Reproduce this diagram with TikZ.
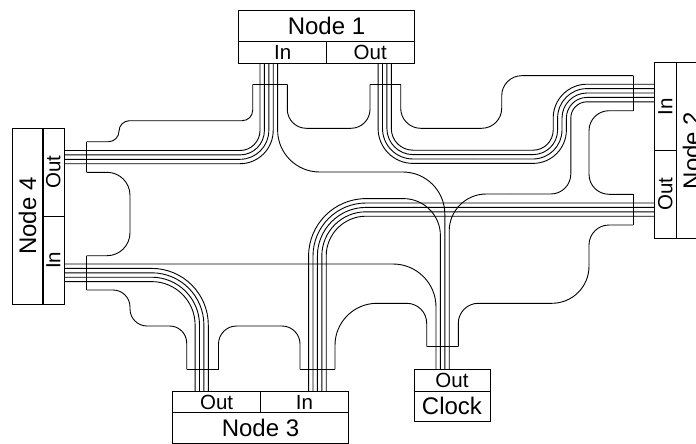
\documentclass[tikz,border=0pt]{standalone}
\usepackage{fontspec}
\setmainfont{Liberation Sans}
\tikzset{
  wire/.style={line width=0.9pt},
  rim/.style={line width=0.9pt},
  name cell/.style={draw,line width=0.8pt,inner sep=0pt,minimum width=175.5pt,
    minimum height=31pt,font=\fontsize{24}{24}\selectfont},
  port cell/.style={draw,line width=0.8pt,inner sep=0pt,minimum width=87.75pt,
    minimum height=21.5pt,font=\fontsize{20.5}{20.5}\selectfont},
}
\begin{document}
\begin{tikzpicture}[x=1pt,y=-1pt]
  \useasboundingbox (0,0) rectangle (696,444);
  \clip (0,0) rectangle (696,444);
  % blocks
  \node[name cell] (n1) at (326.5,26.25) {Node 1};
  \node[port cell] (n1in) at (282.75,52.25) {In};
  \node[port cell] (n1out) at (370.25,52.25) {Out};
  \node[name cell,rotate=90] (n2) at (691.5,150.5) {Node 2};
  \node[port cell,rotate=90] (n2in) at (665.25,106.6) {In};
  \node[port cell,rotate=90] (n2out) at (665.25,194.4) {Out};
  \node[name cell] (n3) at (260.5,427.8) {Node 3};
  \node[port cell] (n3out) at (216.6,402) {Out};
  \node[port cell] (n3in) at (304.4,402) {In};
  \node[name cell,rotate=90] (n4) at (27.5,216.3) {Node 4};
  \node[port cell,rotate=90] (n4out) at (53.35,172.3) {Out};
  \node[port cell,rotate=90] (n4in) at (53.35,260.3) {In};
  \node[name cell,minimum width=76pt,minimum height=30pt] (clk) at (452,406) {Clock};
  \node[port cell,minimum width=76pt,minimum height=21.7pt] (clkout) at (452,380.15) {Out};

  % routing area
  \draw[rim,rounded corners=10.5] (86.7,141.7) -- (119,141.7) -- (119,120.7) -| (252.7,84.3);
  \draw[rim,rounded corners=19] (287.3,84.3) |- (370,128.3) -- (370,84.3);
  \draw[rim,rounded corners=20] (400.7,84.3) |- (501.7,128.3) -- (501.7,75.7) -- (633.3,75.7);
  \draw[rim,rounded corners=20] (633.3,110.7) -- (589,110.7) -- (589,194.3) -- (633.3,194.3);
  \draw[rim,rounded corners=20] (633.3,225) -- (589,225) -- (589,264);
  \draw[rim,rounded corners=37] (589,264) |- (520,303.3);
  \draw[rim,rounded corners=20] (520,303.3) -| (458.3,346.7);
  \draw[rim,rounded corners=20] (426.7,346.7) |- (380,303.3);
  \draw[rim,rounded corners=42] (380,303.3) -| (335,369.3);
  \draw[rim,rounded corners=18] (300,369.3) |- (218.5,326) -- (218.5,369.3);
  \draw[rim,rounded corners=17] (186.7,369.3) |- (130,326) -- (130,290) -- (86.7,290);
  \draw[rim,rounded corners=23] (86.7,172.3) -- (130,172.3) -- (130,255.7) -- (86.7,255.7);
  \draw[rim] (86.7,141.7) -- (86.7,172.3) (86.7,255.7) -- (86.7,290)
    (252.7,84.3) -- (287.3,84.3) (370,84.3) -- (400.7,84.3)
    (633.3,75.7) -- (633.3,110.7) (633.3,194.3) -- (633.3,225)
    (426.7,346.7) -- (458.3,346.7) (300,369.3) -- (335,369.3)
    (186.7,369.3) -- (218.5,369.3);

  % buses
  \foreach \k in {0,...,3}
    \draw[wire,rounded corners=20+4.4*\k]
      (260+4.4*\k,0 |- n1in.south) |- (n4out.south |- 0,150.5+4.4*\k);
  \foreach \j in {0,...,3}{
    \draw[wire,rounded corners=21.7+4.4*\j] (391.3-4.4*\j,0 |- n1out.south) |- (473,150.2+4.4*\j);
    \draw[wire,rounded corners=20.2+4.4*\j] (473,150.2+4.4*\j) -| (553.2+4.4*\j,124);
    \draw[wire,rounded corners=33.8-4.4*\j] (553.2+4.4*\j,124) |- (n2in.north |- 0,84.2+4.4*\j);
  }
  \foreach \j in {0,...,3}
    \draw[wire,rounded corners=53-4.4*\j]
      (n2out.north |- 0,203+4.4*\j) -| (313+4.4*\j,0 |- n3in.north);
  \foreach \k in {0,...,3}
    \draw[wire,rounded corners=43.4+4.4*\k]
      (195.1+4.4*\k,0 |- n3out.north) |- (n4in.south |- 0,281.6-4.4*\k);

  % clock lines
  \draw[wire,rounded corners=42] (277.6,0 |- n1in.south) |- (444.8,172) -- (444.8,0 |- clkout.north);
  \draw[wire,rounded corners=43] (n4in.south |- 0,264) -| (436,0 |- clkout.north);
  \draw[wire,rounded corners=57.4] (308.6,0 |- n3in.north) |- (385,198.6);
  \draw[wire,rounded corners=37] (385,198.6) -| (440.4,0 |- clkout.north);
  \draw[wire,rounded corners=16.2] (n2in.north |- 0,101.8) -| (570.8,150);
  \draw[wire,rounded corners=20] (570.8,150) |- (510,194);
  \draw[wire,rounded corners=37] (510,194) -| (449.2,0 |- clkout.north);
\end{tikzpicture}
\end{document}
